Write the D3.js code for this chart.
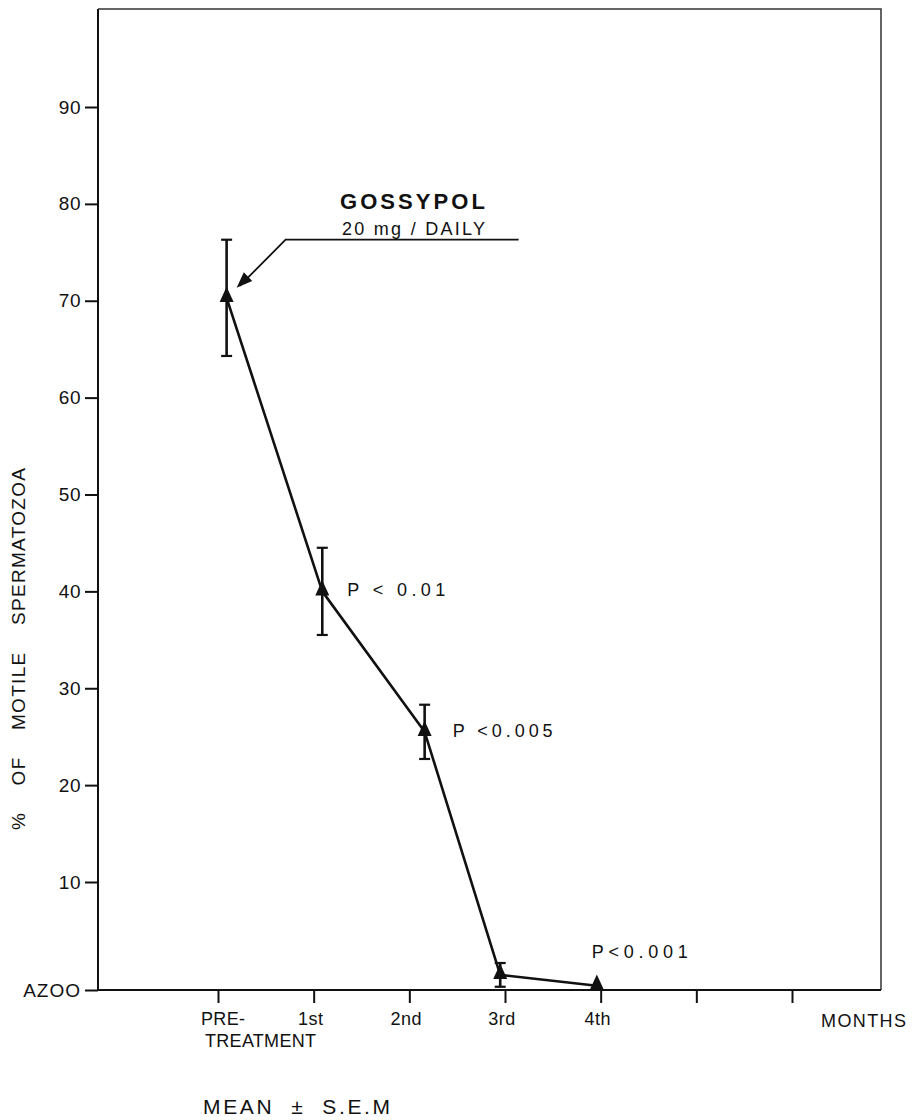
<!DOCTYPE html>
<html>
<head>
<meta charset="utf-8">
<script src="https://cdn.jsdelivr.net/npm/d3@7"></script>
<style>
  html, body { margin: 0; padding: 0; background: #fff; }
  svg { display: block; }
  text { font-family: "Liberation Sans", Arial, sans-serif; fill: #111; }
</style>
</head>
<body>
<svg id="chart" width="914" height="1120"></svg>
<script>
// ---- data ----
const monthTicks = [0, 1, 2, 3, 4, 5, 6];
const monthLabels = ["PRE-|TREATMENT", "1st", "2nd", "3rd", "4th", "", ""];
const yTickValues = [0, 10, 20, 30, 40, 50, 60, 70, 80, 90];
const yTickLabels = ["AZOO", "10", "20", "30", "40", "50", "60", "70", "80", "90"];
const pointMonth = [0.09, 1.09, 2.16, 2.95, 3.96];
const meanMotile = [70.3, 40.0, 25.5, 1.4, 0.4];
const semMotile = [6.0, 4.5, 2.8, 1.1, 0];
const pLabels = ["", "P < 0.01", "P <0.005", "", "P<0.001"];

// ---- layout ----
const plotLeft = 98, plotRight = 881, plotTop = 9, plotBottom = 990;
const svg = d3.select("#chart");

const x = d3.scaleLinear().domain([0, 6]).range([218, 792]);
const y = d3.scaleLinear().domain([0, 10, 90]).range([plotBottom, 882, 107]);

// frame (top and right sides)
svg.append("path")
  .attr("d", `M${plotLeft},${plotTop}H${plotRight}V${plotBottom}`)
  .attr("fill", "none").attr("stroke", "#333").attr("stroke-width", 1.5);

// y axis
const yAxis = d3.axisLeft(y)
  .tickValues(yTickValues)
  .tickFormat((d, i) => yTickLabels[i])
  .tickSize(13).tickPadding(4);
const gy = svg.append("g").attr("transform", `translate(${plotLeft},0)`).call(yAxis);
gy.select(".domain").attr("d", `M0,${plotTop}V${plotBottom}`).attr("stroke", "#111").attr("stroke-width", 2);
gy.selectAll(".tick line").attr("stroke", "#111").attr("stroke-width", 2);
gy.selectAll(".tick text").attr("font-size", 19).attr("fill", "#111")
  .style("font-family", '"Liberation Sans", Arial, sans-serif')
  .attr("letter-spacing", (d) => d === 0 ? 1 : 0.5);

// x axis
const xAxis = d3.axisBottom(x).tickValues(monthTicks).tickFormat("").tickSize(13);
const gx = svg.append("g").attr("transform", `translate(0,${plotBottom})`).call(xAxis);
gx.select(".domain").attr("d", `M${plotLeft},0H${plotRight}`).attr("stroke", "#111").attr("stroke-width", 2);
gx.selectAll(".tick line").attr("stroke", "#111").attr("stroke-width", 2);

// x tick labels
monthTicks.forEach((m, i) => {
  const lab = monthLabels[i];
  if (!lab) return;
  if (lab.includes("|")) {
    const parts = lab.split("|");
    svg.append("text").attr("x", x(m) - 17).attr("y", plotBottom + 35)
      .attr("font-size", 18).attr("textLength", 44).attr("lengthAdjust", "spacing").text(parts[0]);
    svg.append("text").attr("x", x(m) - 13).attr("y", plotBottom + 57)
      .attr("font-size", 18).attr("textLength", 111).attr("lengthAdjust", "spacing").text(parts[1]);
  } else {
    svg.append("text").attr("x", x(m) - 3).attr("y", plotBottom + 35)
      .attr("font-size", 18).attr("text-anchor", "middle").attr("letter-spacing", 0.5).text(lab);
  }
});

svg.append("text").attr("x", 821).attr("y", plotBottom + 37)
  .attr("font-size", 18).attr("textLength", 85).attr("lengthAdjust", "spacing").text("MONTHS");

// y axis title
svg.append("text")
  .attr("transform", `translate(25,830) rotate(-90)`)
  .attr("font-size", 19)
  .attr("textLength", 362).attr("lengthAdjust", "spacing")
  .attr("xml:space", "preserve").style("white-space", "pre")
  .text("%    OF    MOTILE    SPERMATOZOA");

// data line
const pts = pointMonth.map((m, i) => ({ m, v: meanMotile[i], s: semMotile[i], p: pLabels[i] }));
svg.append("path").datum(pts)
  .attr("d", d3.line().x(d => x(d.m)).y(d => y(d.v)))
  .attr("fill", "none").attr("stroke", "#111").attr("stroke-width", 2.6).attr("stroke-linejoin", "round");

// error bars
const eb = svg.append("g").selectAll("g").data(pts.filter(d => d.s > 0)).join("g");
eb.append("line").attr("x1", d => x(d.m)).attr("x2", d => x(d.m))
  .attr("y1", d => y(d.v + d.s)).attr("y2", d => y(Math.max(0, d.v - d.s)))
  .attr("stroke", "#111").attr("stroke-width", 2.6);
eb.append("line").attr("x1", d => x(d.m) - 5.5).attr("x2", d => x(d.m) + 5.5)
  .attr("y1", d => y(d.v + d.s)).attr("y2", d => y(d.v + d.s))
  .attr("stroke", "#111").attr("stroke-width", 2.2);
eb.append("line").attr("x1", d => x(d.m) - 5.5).attr("x2", d => x(d.m) + 5.5)
  .attr("y1", d => y(Math.max(0, d.v - d.s))).attr("y2", d => y(Math.max(0, d.v - d.s)))
  .attr("stroke", "#111").attr("stroke-width", 2.2);

// triangles
svg.append("g").selectAll("path").data(pts).join("path")
  .attr("d", d3.symbol(d3.symbolTriangle).size(85))
  .attr("transform", d => `translate(${x(d.m)},${y(d.v) - 1}) scale(1,1.25)`)
  .attr("fill", "#111");

// p-value labels
const pLen = [98, 100, 96];
svg.append("g").selectAll("text").data(pts.filter(d => d.p)).join("text")
  .attr("x", (d, i) => x(d.m) + [25, 28, -5][i])
  .attr("y", (d, i) => y(d.v) + [5, 5, -28][i])
  .attr("font-size", 18)
  .attr("textLength", (d, i) => pLen[i]).attr("lengthAdjust", "spacing")
  .attr("xml:space", "preserve").style("white-space", "pre")
  .text(d => d.p);

// annotation: Gossypol with arrow
const p0 = pts[0];
const ax0 = x(p0.m), ay0 = y(p0.v);
const elbowX = ax0 + 59, elbowY = y(76.3);
svg.append("path")
  .attr("d", `M${elbowX + 233},${elbowY}H${elbowX}L${ax0 + 13},${ay0 - 12}`)
  .attr("fill", "none").attr("stroke", "#111").attr("stroke-width", 1.8);
// arrowhead
const tipX = ax0 + 10, tipY = ay0 - 10;
const ang = Math.atan2(tipY - elbowY, tipX - elbowX);
const L = 16, W = 6;
const bx = tipX - L * Math.cos(ang), by = tipY - L * Math.sin(ang);
svg.append("path")
  .attr("d", `M${tipX},${tipY}L${bx + W * Math.sin(ang)},${by - W * Math.cos(ang)}L${bx - W * Math.sin(ang)},${by + W * Math.cos(ang)}Z`)
  .attr("fill", "#111");

svg.append("text").attr("x", 340).attr("y", elbowY - 31)
  .attr("font-size", 22).attr("font-weight", "bold")
  .attr("textLength", 145).attr("lengthAdjust", "spacing")
  .text("GOSSYPOL");
svg.append("text").attr("x", 342).attr("y", elbowY - 5)
  .attr("font-size", 18)
  .attr("textLength", 143).attr("lengthAdjust", "spacing")
  .text("20 mg / DAILY");

// footnote
svg.append("text").attr("x", 203).attr("y", 1114)
  .attr("font-size", 21)
  .attr("textLength", 187).attr("lengthAdjust", "spacing")
  .attr("xml:space", "preserve").style("white-space", "pre")
  .text("MEAN  ±  S.E.M");
</script>
</body>
</html>
